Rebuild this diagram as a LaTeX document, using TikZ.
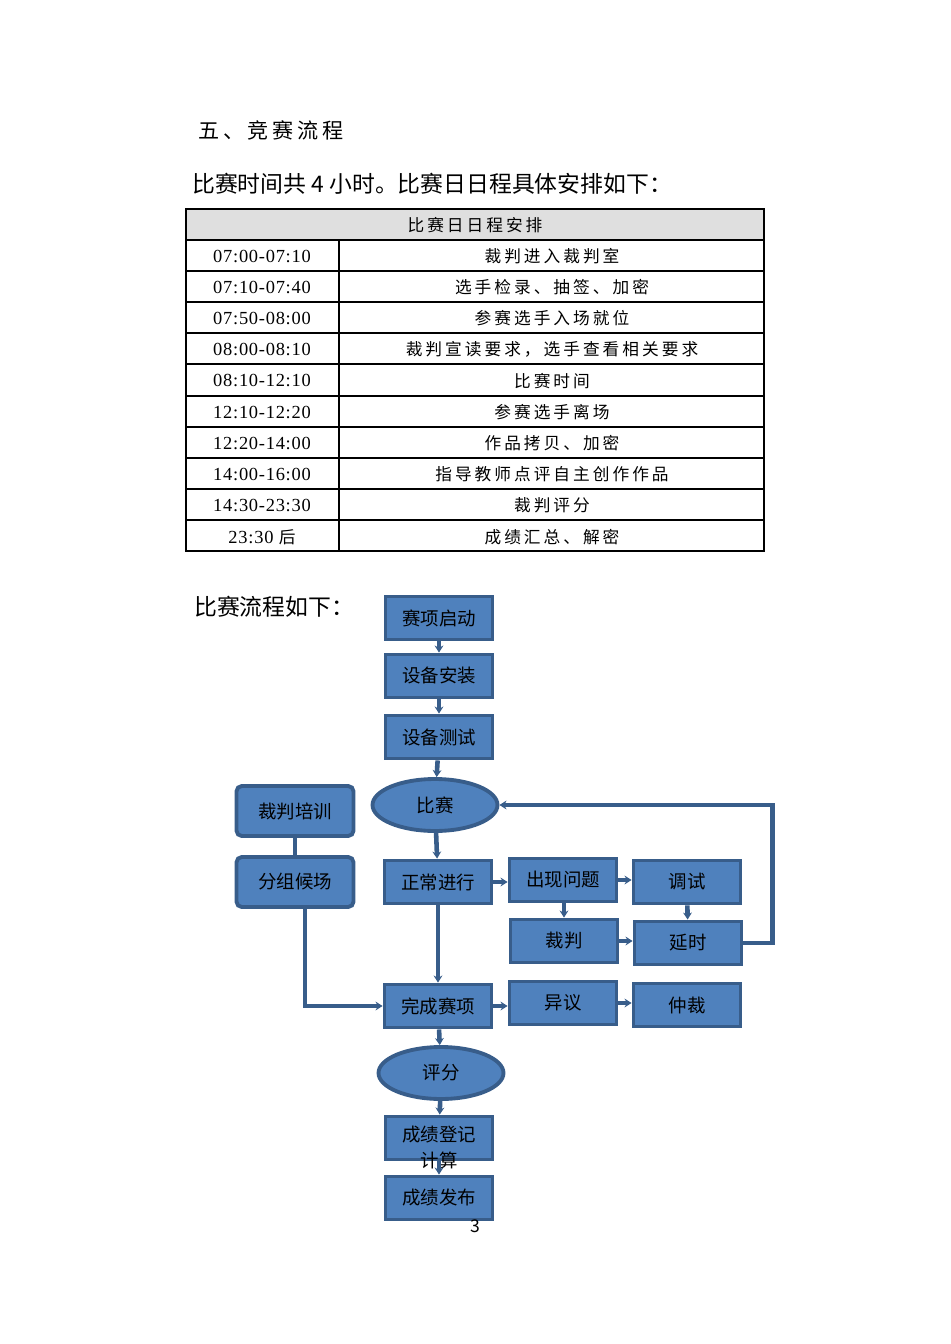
\documentclass[tikz,border=0pt]{standalone}
\usepackage{fontspec}
\setmainfont{Noto Sans CJK SC}
\newfontfamily\cjk{Noto Sans CJK SC}
\newfontfamily\cjksp[LetterSpace=18]{Noto Sans CJK SC}
\newfontfamily\numf[LetterSpace=4]{Liberation Serif}
\usetikzlibrary{shapes.geometric,arrows.meta}
\definecolor{bfill}{HTML}{4F81BD}
\definecolor{bdraw}{HTML}{385D8A}
\tikzset{
 box/.style={draw=bdraw,line width=2.2pt,fill=bfill,minimum width=2.14cm,minimum height=0.86cm,font=\cjk\fontsize{10.5}{12}\selectfont,inner sep=0pt},
 rbox/.style={box,rounded corners=3pt,minimum width=2.34cm,minimum height=1.0cm},
 ell/.style={ellipse,draw=bdraw,line width=2.2pt,fill=bfill,minimum width=2.5cm,minimum height=1.04cm,font=\cjk\fontsize{10.5}{12}\selectfont,inner sep=0pt},
 con/.style={draw=bdraw,line width=2.6pt,-{Stealth[length=4pt,width=5pt]}},
 cel/.style={font=\cjksp\fontsize{9.5}{11}\selectfont},
 tm/.style={font=\numf\fontsize{10.5}{12}\selectfont}
}
\begin{document}
\begin{tikzpicture}[x=0.02cm,y=-0.02cm]
\useasboundingbox (0,0) rectangle (950,1344);
\node[anchor=west,font=\cjksp\fontsize{12}{14}\selectfont] (t1) at (192,130) {五、竞赛流程};
\node[anchor=west,font=\cjk\fontsize{13}{15}\selectfont] (t2) at (186,184) {比赛时间共 4 小时。比赛日日程具体安排如下：};
% table
\fill[gray!25] (186,209) rectangle (764,240);
\draw[line width=0.6pt] (186,209) rectangle (764,551);
\foreach \y in {240,271,302,333,364,396,427,458,489,520} \draw[line width=0.6pt] (186,\y) -- (764,\y);
\draw[line width=0.6pt] (339,240) -- (339,551);
\node[cel] (h) at (475,225) {比赛日日程安排};
\foreach \i/\t/\d in {0/07:00-07:10/裁判进入裁判室,1/07:10-07:40/{选手检录、抽签、加密},2/07:50-08:00/参赛选手入场就位,3/08:00-08:10/{裁判宣读要求，选手查看相关要求},4/08:10-12:10/比赛时间,5/12:10-12:20/参赛选手离场,6/12:20-14:00/作品拷贝、加密,7/14:00-16:00/指导教师点评自主创作作品,8/14:30-23:30/裁判评分}{
 \node[tm] (tt\i) at (262,{256+31.2*\i}) {\t};
 \node[cel] (dd\i) at (552,{256+31.2*\i}) {\d};
}
\node[tm] (tt9) at (262,537) {23:30 {\cjk\fontsize{9.5}{11}\selectfont 后}};
\node[cel] (dd9) at (552,537) {成绩汇总、解密};
\node[anchor=west,font=\cjk\fontsize{13}{15}\selectfont] (t3) at (188,607) {比赛流程如下：};
% flowchart
\node[box] (a) at (439,618) {赛项启动};
\node[box] (b) at (439,676) {设备安装};
\node[box] (c) at (439,737) {设备测试};
\node[ell] (d) at (435,805) {比赛};
\node[rbox] (p) at (295,811) {裁判培训};
\node[rbox] (q) at (295,882) {分组候场};
\node[box] (e) at (438,882) {正常进行};
\node[box] (f) at (563,880) {出现问题};
\node[box] (g) at (687,882) {调试};
\node[box] (h2) at (564,941) {裁判};
\node[box] (i) at (688,943) {延时};
\node[box] (j) at (438,1006) {完成赛项};
\node[box] (k) at (563,1003) {异议};
\node[box] (l) at (687,1005) {仲裁};
\node[ell] (m) at (441,1073) {评分};
\node[box] (n) at (439,1138) {};
\node[font=\cjk\fontsize{10.5}{12}\selectfont] (n1) at (439,1135) {成绩登记};
\node[font=\cjk\fontsize{10.5}{12}\selectfont] (n2) at (439,1160) {计算};
\node[box] (o) at (439,1198) {成绩发布};
\node[font=\fontsize{10}{12}\selectfont] (pg) at (475,1226) {3};
\draw[con] (a) -- (b);
\draw[con] (b) -- (c);
\draw[con] (c) -- (d);
\draw[con] (d) -- (e);
\draw[con] (e) -- (j);
\draw[con] (j) -- (m);
\draw[con] (m) -- (n);
\draw[con] (n) -- (o);
\draw[con] (e.east) -- (f.west|-e.east);
\draw[con] (f.east) -- (g.west|-f.east);
\draw[con] (f.south-|h2.north) -- (h2.north);
\draw[con] (g) -- (i);
\draw[con] (h2.east) -- (i.west|-h2.east);
\draw[con] (j.east) -- (k.west|-j.east);
\draw[con] (k.east) -- (l.west|-k.east);
\draw[draw=bdraw,line width=2.6pt] (p) -- (q);
\draw[con] (i.east) -- ++(29,0) |- (d.east);
\draw[con] (q.south-|305,0) |- (j.west);
\end{tikzpicture}
\end{document}
